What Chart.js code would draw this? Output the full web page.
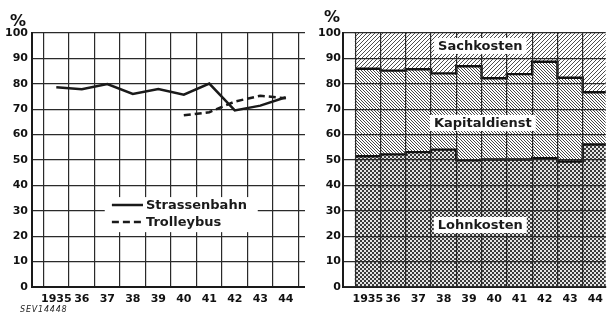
<!DOCTYPE html>
<html><head><meta charset="utf-8">
<script src="https://cdn.jsdelivr.net/npm/chart.js@4/dist/chart.umd.min.js"></script>
<style>
html,body{margin:0;padding:0;background:#fff;}
body{width:609px;height:316px;overflow:hidden;position:relative;font-family:"DejaVu Sans",sans-serif;}
.box{position:absolute;top:0;height:316px;}
.pct{position:absolute;font:bold 16px "DejaVu Sans";line-height:1;color:#111;}
.ref{position:absolute;left:20px;top:306px;font:italic 8px "DejaVu Sans";line-height:1;color:#222;letter-spacing:0.8px}
</style></head><body>
<div class="box" style="left:0;width:305px"><canvas id="left"></canvas></div>
<div class="box" style="left:300px;width:309px"><canvas id="right"></canvas></div>
<div class="pct" style="left:10px;top:13px">%</div>
<div class="pct" style="left:324px;top:9px">%</div>
<div class="ref">SEV14448</div>
<script>
const years = [1935, 1936, 1937, 1938, 1939, 1940, 1941, 1942, 1943, 1944];
const yearLabels = ['1935', '36', '37', '38', '39', '40', '41', '42', '43', '44'];
const yTicks = [0, 10, 20, 30, 40, 50, 60, 70, 80, 90, 100];
const strassenbahn = [78.6, 77.9, 79.9, 76.0, 77.9, 75.7, 80.1, 69.5, 71.4, 74.7];
const trolleybus = [null, null, null, null, null, 67.6, 68.8, 73.0, 75.3, 74.3];
const lohnkosten = [51.5, 52.2, 53.1, 54.1, 49.9, 50.2, 50.2, 50.7, 49.4, 56.1];
const kapitaldienst = [34.4, 33.0, 32.6, 30.0, 37.0, 32.0, 33.6, 38.0, 33.0, 20.6];
const sachkosten = [14.1, 14.8, 14.3, 15.9, 13.1, 17.8, 16.2, 11.3, 17.6, 23.3];
const seriesNames = ['Strassenbahn', 'Trolleybus'];
const costNames = ['Lohnkosten', 'Kapitaldienst', 'Sachkosten'];

Chart.defaults.font.family = '"DejaVu Sans", sans-serif';
Chart.defaults.font.weight = 'bold';
Chart.defaults.font.size = 11;
Chart.defaults.color = '#111';

const INK = '#1a1a1a';
const GRID = '#2a2a2a';

function hatch(size, dir, color, lw) {
  const c = document.createElement('canvas');
  c.width = c.height = size;
  const g = c.getContext('2d');
  g.fillStyle = '#fff'; g.fillRect(0, 0, size, size);
  g.strokeStyle = color; g.lineWidth = lw;
  g.beginPath();
  for (let k = -1; k <= 1; k++) {
    if (dir === '/') { g.moveTo(k * size, size); g.lineTo(k * size + size, 0); }
    else { g.moveTo(k * size, 0); g.lineTo(k * size + size, size); }
  }
  g.stroke();
  return g.createPattern(c, 'repeat');
}
function checker(cell, dark, light) {
  const c = document.createElement('canvas');
  c.width = c.height = cell * 2;
  const g = c.getContext('2d');
  g.fillStyle = light; g.fillRect(0, 0, cell * 2, cell * 2);
  g.fillStyle = dark; g.fillRect(0, 0, cell, cell); g.fillRect(cell, cell, cell, cell);
  return g.createPattern(c, 'repeat');
}

function yScale(width, pad, onTop) {
  return {
    type: 'linear', min: 0, max: 100,
    afterBuildTicks: s => { s.ticks = yTicks.map(v => ({ value: v })); },
    afterFit: s => { s.width = width; },
    ticks: { padding: pad, font: { size: 11, weight: 'bold' } },
    grid: { color: GRID, lineWidth: 1.2, drawTicks: false, z: onTop ? 1 : -1 },
    border: { color: INK, width: 2, z: onTop ? 1 : 0 }
  };
}
function xScale(min, max, onTop) {
  return {
    type: 'linear', min: min, max: max, offset: false,
    afterBuildTicks: s => { s.ticks = years.map(v => ({ value: v })); },
    afterFit: s => { s.height = 29; },
    ticks: { padding: 6, autoSkip: false, maxRotation: 0, callback: (v, i) => yearLabels[i] },
    grid: { color: GRID, lineWidth: 1.2, drawTicks: false, offset: true, z: onTop ? 1 : -1 },
    border: { color: INK, width: 2, z: onTop ? 1 : 0 }
  };
}

/* ---------- left chart ---------- */
const legendPlugin = {
  id: 'boxLegend',
  afterDraw(chart) {
    const { ctx } = chart;
    const xs = chart.scales.x, ys = chart.scales.y;
    const bx0 = xs.getPixelForValue(1936.9), bx1 = xs.getPixelForValue(1942.9);
    const by0 = ys.getPixelForValue(35.4), by1 = ys.getPixelForValue(21.6);
    ctx.save();
    ctx.fillStyle = '#fff';
    ctx.fillRect(bx0, by0, bx1 - bx0, by1 - by0);
    const rows = [ys.getPixelForValue(32.3), ys.getPixelForValue(25.6)];
    const lx0 = xs.getPixelForValue(1937.18), lx1 = xs.getPixelForValue(1938.4);
    ctx.font = 'bold 13px "DejaVu Sans"';
    ctx.textBaseline = 'middle';
    chart.data.datasets.forEach((ds, i) => {
      ctx.strokeStyle = ds.borderColor; ctx.lineWidth = ds.borderWidth;
      ctx.setLineDash(ds.borderDash || []);
      ctx.beginPath(); ctx.moveTo(lx0, rows[i]); ctx.lineTo(lx1, rows[i]); ctx.stroke();
      ctx.setLineDash([]);
      ctx.fillStyle = INK;
      ctx.fillText(ds.label, lx1 + 3, rows[i] + 0.5);
    });
    ctx.restore();
  }
};

new Chart(document.getElementById('left'), {
  type: 'line',
  data: {
    datasets: [
      { label: seriesNames[0], data: years.map((x, i) => ({ x, y: strassenbahn[i] })),
        borderColor: INK, borderWidth: 2.5, pointRadius: 0, tension: 0 },
      { label: seriesNames[1], data: years.map((x, i) => ({ x, y: trolleybus[i] })).filter(p => p.y !== null),
        borderColor: INK, borderWidth: 2.5, borderDash: [7, 4], pointRadius: 0, tension: 0 }
    ]
  },
  options: {
    responsive: true, maintainAspectRatio: false, devicePixelRatio: 1, animation: false,
    layout: { padding: { top: 33, left: 0, right: 0, bottom: 0 } },
    plugins: { legend: { display: false }, tooltip: { enabled: false } },
    scales: { x: xScale(1934.047, 1944.753, false), y: yScale(32, 4, false) }
  },
  plugins: [legendPlugin]
});

/* ---------- right chart ---------- */
const kapTop = years.map((_, i) => lohnkosten[i] + kapitaldienst[i]);
const stepPoints = vals => years.flatMap((x, i) => [{ x: x - 0.5, y: vals[i] }, { x: x + 0.5, y: vals[i] }]);

const labelPlugin = {
  id: 'costLabels',
  afterDraw(chart) {
    const { ctx } = chart;
    const xs = chart.scales.x, ys = chart.scales.y;
    const spots = [[1939.45, 24.4], [1939.55, 64.6], [1939.45, 94.9]];
    ctx.save();
    ctx.font = 'bold 13px "DejaVu Sans"';
    ctx.textAlign = 'center'; ctx.textBaseline = 'middle';
    costNames.forEach((name, i) => {
      const cx = xs.getPixelForValue(spots[i][0]), cy = ys.getPixelForValue(spots[i][1]);
      const w = ctx.measureText(name).width + 8, h = 16;
      ctx.fillStyle = '#fff';
      ctx.fillRect(cx - w / 2, cy - h / 2, w, h);
      ctx.fillStyle = INK;
      ctx.fillText(name, cx, cy + 0.5);
    });
    ctx.restore();
  }
};

const lohnData = years.map((x, i) => ({ x, y: [0, lohnkosten[i]] }));
const kapData = years.map((x, i) => ({ x, y: [lohnkosten[i], kapTop[i]] }));
const sachData = years.map((x, i) => ({ x, y: [kapTop[i], kapTop[i] + sachkosten[i]] }));

new Chart(document.getElementById('right'), {
  type: 'bar',
  data: {
    datasets: [
      { type: 'line', label: 'outline1', data: stepPoints(lohnkosten), borderColor: '#111', borderWidth: 2.4,
        pointRadius: 0, tension: 0, order: 0 },
      { type: 'line', label: 'outline2', data: stepPoints(kapTop), borderColor: '#111', borderWidth: 2.4,
        pointRadius: 0, tension: 0, order: 0 },
      { label: costNames[0], data: lohnData, backgroundColor: checker(2, '#3a3a3a', '#e4e4e4'),
        grouped: false, barPercentage: 1, categoryPercentage: 1, borderWidth: 0, order: 1 },
      { label: costNames[1], data: kapData, backgroundColor: hatch(3, '\\', '#333', 0.9),
        grouped: false, barPercentage: 1, categoryPercentage: 1, borderWidth: 0, order: 1 },
      { label: costNames[2], data: sachData, backgroundColor: hatch(4, '/', '#3a3a3a', 0.9),
        grouped: false, barPercentage: 1, categoryPercentage: 1, borderWidth: 0, order: 1 }
    ]
  },
  options: {
    responsive: true, maintainAspectRatio: false, devicePixelRatio: 1, animation: false,
    layout: { padding: { top: 33, left: 0, right: 0, bottom: 0 } },
    plugins: { legend: { display: false }, tooltip: { enabled: false } },
    scales: { x: xScale(1934.02, 1944.41, true), y: yScale(43, 2, true) }
  },
  plugins: [labelPlugin]
});
</script>
</body></html>
